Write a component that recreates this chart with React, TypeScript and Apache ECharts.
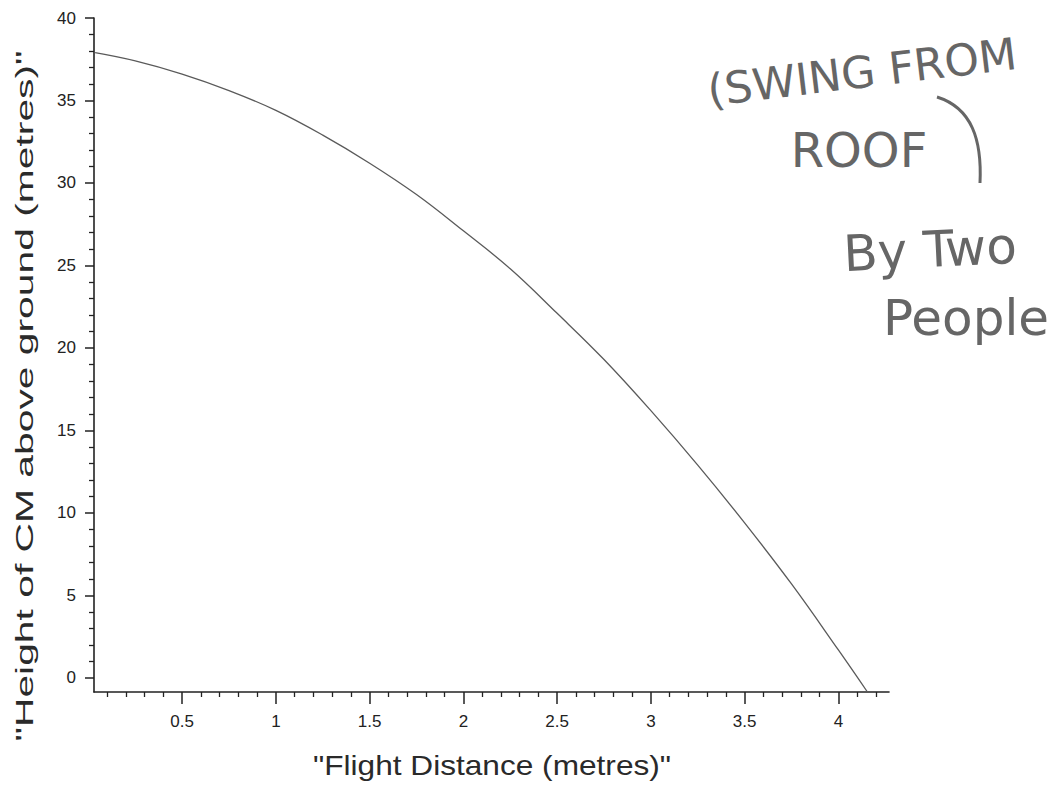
import React, { useEffect, useRef } from "react";
import * as echarts from "echarts";

// Flight distance (m) and height of CM above ground (m)
const flightDistance = [0.036, 0.25, 0.5, 0.75, 1.0, 1.25, 1.5, 1.75, 2.0, 2.25, 2.5, 2.75, 3.0, 3.25, 3.5, 3.75, 4.0, 4.155];
const heightCM = [37.9, 37.4, 36.6, 35.6, 34.4, 32.9, 31.2, 29.3, 27.1, 24.8, 22.1, 19.3, 16.2, 12.9, 9.4, 5.7, 1.7, -0.85];

const xMajorTicks = [0.5, 1, 1.5, 2, 2.5, 3, 3.5, 4];
const xMinorTicks = [0.1, 0.2, 0.3, 0.4, 0.6, 0.7, 0.8, 0.9, 1.1, 1.2, 1.3, 1.4, 1.6, 1.7, 1.8, 1.9, 2.1, 2.2, 2.3, 2.4, 2.6, 2.7, 2.8, 2.9, 3.1, 3.2, 3.3, 3.4, 3.6, 3.7, 3.8, 3.9, 4.1, 4.2];
const yMajorTicks = [0, 5, 10, 15, 20, 25, 30, 35, 40];
const yMinorTicks = [1, 2, 3, 4, 6, 7, 8, 9, 11, 12, 13, 14, 16, 17, 18, 19, 21, 22, 23, 24, 26, 27, 28, 29, 31, 32, 33, 34, 36, 37, 38, 39];

const xTitle = '"Flight Distance (metres)"';
const yTitle = '"Height of CM above ground (metres)"';
const noteLines = ["(SWING FROM", "ROOF", "By Two", "People"];

const X_MIN = 0.03;
const X_MAX = 4.27;
const Y_MIN = -0.85;
const Y_MAX = 40;

export default function App() {
  const ref = useRef<HTMLDivElement>(null);

  useEffect(() => {
    if (!ref.current) return;
    const chart = echarts.init(ref.current, null, { renderer: "svg" });
    const axisColor = "#222";
    const labelStyle = {
      color: "#222",
      fontFamily: "Liberation Sans",
      fontSize: 17,
    };
    const noteStyle = (fontSize: number) => ({
      fill: "#666",
      fontFamily: "DejaVu Sans",
      fontSize,
      align: "center",
      verticalAlign: "middle",
      textAlign: "center",
      textVerticalAlign: "middle",
    });

    chart.setOption({
      animation: false,
      backgroundColor: "#ffffff",
      grid: { left: 94, right: 166, top: 18, bottom: 97, containLabel: false },
      xAxis: [
        {
          type: "value",
          min: X_MIN,
          max: X_MAX,
          position: "bottom",
          axisLine: { show: true, onZero: false, lineStyle: { color: axisColor, width: 1.6 } },
          axisTick: { show: true, length: 12, customValues: xMajorTicks, lineStyle: { color: axisColor, width: 1.5 } },
          axisLabel: { show: true, customValues: xMajorTicks, margin: 21, ...labelStyle },
          splitLine: { show: false },
        },
        {
          type: "value",
          min: X_MIN,
          max: X_MAX,
          position: "bottom",
          offset: 0,
          axisLine: { show: false, onZero: false },
          axisTick: { show: true, length: 5, customValues: xMinorTicks, lineStyle: { color: axisColor, width: 1.3 } },
          axisLabel: { show: false },
          splitLine: { show: false },
        },
      ],
      yAxis: [
        {
          type: "value",
          min: Y_MIN,
          max: Y_MAX,
          position: "left",
          offset: 0,
          axisLine: { show: true, onZero: false, lineStyle: { color: axisColor, width: 1.6 } },
          axisTick: { show: true, length: 9, customValues: yMajorTicks, lineStyle: { color: axisColor, width: 1.5 } },
          axisLabel: { show: true, customValues: yMajorTicks, margin: 18, ...labelStyle },
          splitLine: { show: false },
        },
        {
          type: "value",
          min: Y_MIN,
          max: Y_MAX,
          position: "left",
          offset: 0,
          axisLine: { show: false, onZero: false },
          axisTick: { show: true, length: 5, customValues: yMinorTicks, lineStyle: { color: axisColor, width: 1.3 } },
          axisLabel: { show: false },
          splitLine: { show: false },
        },
      ],
      series: [
        {
          type: "line",
          xAxisIndex: 0,
          yAxisIndex: 0,
          data: flightDistance.map((x, i) => [x, heightCM[i]]),
          showSymbol: false,
          smooth: 0.4,
          clip: false,
          lineStyle: { color: "#5a5a5a", width: 1.3 },
        },
      ],
      graphic: [
        {
          type: "text",
          x: 492,
          y: 765,
          scaleX: 1.13,
          style: {
            text: xTitle,
            fill: "#2a2a2a",
            fontFamily: "Liberation Sans",
            fontSize: 28,
            align: "center",
            verticalAlign: "middle",
            textAlign: "center",
            textVerticalAlign: "middle",
          },
        },
        {
          type: "text",
          x: 25,
          y: 396,
          rotation: Math.PI / 2,
          scaleX: 1.7,
          style: {
            text: yTitle,
            fill: "#2a2a2a",
            fontFamily: "Liberation Sans",
            fontSize: 24,
            align: "center",
            verticalAlign: "middle",
            textAlign: "center",
            textVerticalAlign: "middle",
          },
        },
        { type: "text", x: 862, y: 72, rotation: 0.12, style: { text: noteLines[0], ...noteStyle(44) } },
        { type: "text", x: 859, y: 150, style: { text: noteLines[1], ...noteStyle(48) } },
        {
          type: "bezierCurve",
          shape: { x1: 937, y1: 97, cpx1: 972, cpy1: 108, cpx2: 982, cpy2: 140, x2: 980, y2: 183 },
          style: { stroke: "#666", lineWidth: 3, fill: null },
        },
        { type: "text", x: 930, y: 250, rotation: 0.05, style: { text: noteLines[2], ...noteStyle(50) } },
        { type: "text", x: 966, y: 318, style: { text: noteLines[3], ...noteStyle(50) } },
      ],
    });

    return () => chart.dispose();
  }, []);

  return (
    <div
      ref={ref}
      style={{ position: "fixed", left: 0, top: 0, width: 1055, height: 789, background: "#fff" }}
    />
  );
}
